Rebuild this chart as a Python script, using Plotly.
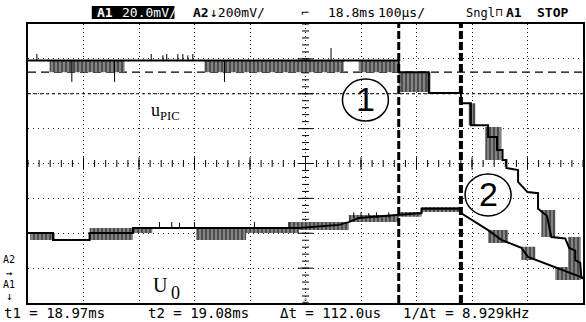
import plotly.graph_objects as go
import numpy as np

# ---------------- data (time in us relative to trigger 18.8 ms, 100 us/div; amplitude in divisions) -------------
x_range_us = [-500, 500]
y_range_div = [-4, 4]

# upper trace u_PIC (main step line)
upic_t = [-500, 168, 168, 222, 222, 280, 280, 298, 298, 329, 329, 345, 345, 355, 355, 362, 362, 383, 383, 400,
          419, 419, 435, 443, 468, 475, 486, 486, 495, 497, 500]
upic_v = [2.95, 2.95, 2.62, 2.62, 2.02, 2.02, 1.73, 1.73, 1.10, 1.10, 0.76, 0.76, 0.39, 0.39, 0.10, 0.10, -0.13, -0.19, -0.53, -0.82,
          -0.85, -1.30, -1.50, -2.11, -2.15, -2.42, -2.50, -2.77, -2.85, -3.28, -3.30]
# noise envelopes of u_PIC
upic_band_t0 = [-461, -182, 96, 168, 294, 324, 425, 473]
upic_band_t1 = [-326, 69, 166, 225, 306, 353, 450, 496]
upic_band_hi = [2.97, 2.97, 2.97, 2.62, 1.73, 1.05, -1.33, -2.11]
upic_band_lo = [2.62, 2.62, 2.62, 2.05, 1.10, 0.10, -2.11, -3.25]
# isolated glitches of u_PIC
upic_spk_t = [-484, -421, -344, -278, -257, -250, -230, -221, -212, -203, -146, 46]
upic_spk_base = [2.95] * 12
upic_spk_tip = [3.14, 2.34, 2.34, 3.14, 3.10, 3.14, 3.14, 3.14, 3.10, 3.14, 2.34, 3.31]

# lower trace U0
u0_t = [-500, -455, -455, -389, -389, -311, -311, -12, 60, 78, 96, 168, 209, 209, 280, 280, 294, 306, 329, 353,
        389, 401, 450, 478, 500]
u0_v = [-1.99, -1.99, -2.19, -2.19, -1.99, -1.99, -1.85, -1.85, -1.76, -1.68, -1.56, -1.48, -1.42, -1.30, -1.30, -1.42, -1.56, -1.68, -1.91, -2.19,
        -2.42, -2.68, -2.97, -3.14, -3.28]
u0_band_t0 = [-496, -389, -311, -197, -107, -30, 78, 168, 209, 329, 389, 450]
u0_band_t1 = [-452, -311, -276, -107, -12, 78, 168, 209, 278, 365, 414, 496]
u0_band_hi = [-1.99, -1.85, -1.85, -1.85, -1.85, -1.68, -1.48, -1.39, -1.25, -1.91, -2.39, -2.97]
u0_band_lo = [-2.19, -2.19, -1.99, -2.19, -1.99, -1.91, -1.68, -1.53, -1.39, -2.28, -2.77, -3.34]
u0_spk_t = [-263, -241, -227, -200, -92, -30, 87, 100, 114, 128, 150]
u0_spk_base = [-1.85, -1.85, -1.85, -1.85, -1.85, -1.85, -1.56, -1.56, -1.56, -1.56, -1.56]
u0_spk_tip = [-1.68, -1.68, -1.70, -1.68, -1.68, -1.68, -1.40, -1.40, -1.42, -1.40, -1.40]

# reference levels and cursors
ref_long_dash = 2.62
ref_short_dash = 2.0
cursor_us = [168, 280]

header_labels = ["A1", "20.0mV/", "A2", "\u2193200mV/", "\u2310", "18.8ms", "100\u00b5s/", "Sngl", "\u2293", "A1", "STOP"]
footer_labels = ["t1 = 18.97ms", "t2 = 19.08ms", "\u0394t = 112.0us", "1/\u0394t = 8.929kHz"]

# ---------------- figure ----------------
W, H = 586, 322
L, R, T, B = 28, 1, 24, 19
PW, PH = W - L - R, H - T - B


def X(px):
    return (px - L) / PW


def Y(py):
    return (H - B - py) / PH


fig = go.Figure()


def bands(t0, t1, hi, lo):
    xs, ys = [], []
    for a, b, h, l in zip(t0, t1, hi, lo):
        xs += [a, b, b, a, a, None]
        ys += [h, h, l, l, h, None]
    return xs, ys


def spikes(t, base, tip):
    xs, ys = [], []
    for a, b, c in zip(t, base, tip):
        xs += [a, a, None]
        ys += [b, c, None]
    return xs, ys


# reference lines
fig.add_trace(go.Scatter(x=x_range_us, y=[ref_long_dash] * 2, mode="lines",
                         line=dict(color="black", width=1.2, dash="8px,5px"), hoverinfo="skip"))
fig.add_trace(go.Scatter(x=x_range_us, y=[ref_short_dash] * 2, mode="lines",
                         line=dict(color="black", width=1, dash="3px,3px"), hoverinfo="skip"))

# centre axis ticks
minor_x = np.arange(-500, 501, 20)
fig.add_trace(go.Scatter(x=minor_x, y=[0] * len(minor_x), mode="markers",
                         marker=dict(symbol="line-ns", size=5, line=dict(color="black", width=1)), hoverinfo="skip"))
minor_y = np.arange(-4, 4.01, 0.2)
fig.add_trace(go.Scatter(x=[0] * len(minor_y), y=minor_y, mode="markers",
                         marker=dict(symbol="line-ew", size=5, line=dict(color="black", width=1)), hoverinfo="skip"))
maj_y = np.arange(-3, 4, 1)
fig.add_trace(go.Scatter(x=[0] * len(maj_y), y=maj_y, mode="markers",
                         marker=dict(symbol="line-ew", size=11, line=dict(color="black", width=1)), hoverinfo="skip"))
maj_x = np.arange(-400, 401, 100)
fig.add_trace(go.Scatter(x=maj_x, y=[0] * len(maj_x), mode="markers",
                         marker=dict(symbol="line-ns", size=9, line=dict(color="black", width=1)), hoverinfo="skip"))

pattern = dict(shape="|", size=4, solidity=0.65, fgcolor="black", bgcolor="#9a9a9a")

for bt0, bt1, bhi, blo in [(upic_band_t0, upic_band_t1, upic_band_hi, upic_band_lo),
                           (u0_band_t0, u0_band_t1, u0_band_hi, u0_band_lo)]:
    bx, by = bands(bt0, bt1, bhi, blo)
    fig.add_trace(go.Scatter(x=bx, y=by, mode="lines", fill="toself", line=dict(width=0, color="black"),
                             fillcolor="rgba(0,0,0,0)", fillpattern=pattern, hoverinfo="skip"))

for st, sb, sp in [(upic_spk_t, upic_spk_base, upic_spk_tip), (u0_spk_t, u0_spk_base, u0_spk_tip)]:
    sx, sy = spikes(st, sb, sp)
    fig.add_trace(go.Scatter(x=sx, y=sy, mode="lines", line=dict(color="black", width=1), hoverinfo="skip"))

fig.add_trace(go.Scatter(x=upic_t, y=upic_v, mode="lines", line=dict(color="black", width=2), hoverinfo="skip"))
fig.add_trace(go.Scatter(x=u0_t, y=u0_v, mode="lines", line=dict(color="black", width=2), hoverinfo="skip"))

# cursors
for c, w in zip(cursor_us, [3, 4]):
    fig.add_trace(go.Scatter(x=[c, c], y=y_range_div, mode="lines",
                             line=dict(color="black", width=w, dash="8px,3px"), hoverinfo="skip"))

ann = []
shapes = []
mono = "DejaVu Sans Mono"

# header
shapes.append(dict(type="rect", xref="paper", yref="paper", x0=X(92), x1=X(175), y0=Y(19), y1=Y(6),
                   fillcolor="black", line=dict(width=0)))
hdr_x = [95, 120, 192, 209, 300, 327, 377, 466, 496, 506, 537]
hdr_size = [13, 13, 13, 13, 13, 13, 13, 12, 11, 13, 13]
hdr_bold = [True, False, True, False, False, False, False, False, False, True, True]
hdr_col = ["white", "white", "black", "black", "black", "black", "black", "black", "black", "black", "black"]
for txt, xx, sz, bd, col in zip(header_labels, hdr_x, hdr_size, hdr_bold, hdr_col):
    ann.append(dict(x=X(xx), y=Y(13), xref="paper", yref="paper", xanchor="left", yanchor="middle",
                    text=f"<b>{txt}</b>" if bd else txt, showarrow=False,
                    font=dict(family=mono, size=sz, color=col)))

# footer
for txt, xx in zip(footer_labels, [2, 146, 279, 402]):
    ann.append(dict(x=X(xx), y=Y(313), xref="paper", yref="paper", xanchor="left", yanchor="middle",
                    text=txt, showarrow=False, font=dict(family=mono, size=14, color="black")))

# left channel markers
for txt, yy, sz in [("A2", 259, 10), ("\u2192", 273, 11), ("A1", 284, 10), ("\u2193", 296, 11)]:
    ann.append(dict(x=X(9), y=Y(yy), xref="paper", yref="paper", xanchor="center", yanchor="middle",
                    text=txt, showarrow=False, font=dict(family=mono, size=sz, color="black")))
ann.append(dict(x=0, y=Y(299), xref="x", yref="paper", xanchor="center", yanchor="middle",
                text="\u25b3", showarrow=False, font=dict(family=mono, size=8, color="black")))

# signal labels
ann.append(dict(x=-252, y=1.5, text="u<sub>PIC</sub>", showarrow=False,
                font=dict(family="Liberation Serif", size=18, color="black")))
ann.append(dict(x=-262, y=-3.48, text="U", showarrow=False,
                font=dict(family="Liberation Serif", size=20, color="black")))
ann.append(dict(x=-235, y=-3.72, text="0", showarrow=False,
                font=dict(family="Liberation Serif", size=18, color="black")))

# circled numbers
for (cx, cy, num) in [(108, 1.82, "1"), (329, -0.90, "2")]:
    shapes.append(dict(type="circle", xref="x", yref="y", xsizemode="pixel", ysizemode="pixel",
                       xanchor=cx, yanchor=cy, x0=-23, x1=23, y0=-21, y1=21,
                       line=dict(color="black", width=1.5), fillcolor="rgba(0,0,0,0)"))
    ann.append(dict(x=cx, y=cy, text=num, showarrow=False, yshift=1,
                    font=dict(family="Liberation Sans", size=34, color="black")))

fig.update_layout(
    width=W, height=H, margin=dict(l=L, r=R, t=T, b=B),
    paper_bgcolor="white", plot_bgcolor="white", showlegend=False,
    annotations=ann, shapes=shapes,
    xaxis=dict(range=x_range_us, dtick=100, tick0=0, showticklabels=False, ticks="",
               showgrid=True, gridcolor="#222", gridwidth=1, griddash="1px,3px",
               zeroline=False, showline=True, linecolor="black", linewidth=1.5, mirror=True, fixedrange=True),
    yaxis=dict(range=y_range_div, dtick=1, tick0=0, showticklabels=False, ticks="",
               showgrid=True, gridcolor="#222", gridwidth=1, griddash="1px,4px",
               zeroline=False, showline=True, linecolor="black", linewidth=1.5, mirror=True, fixedrange=True),
)

fig.write_html("out.html", config={"displayModeBar": False},
               post_script="document.body.style.margin='0';document.body.style.overflow='hidden';")
